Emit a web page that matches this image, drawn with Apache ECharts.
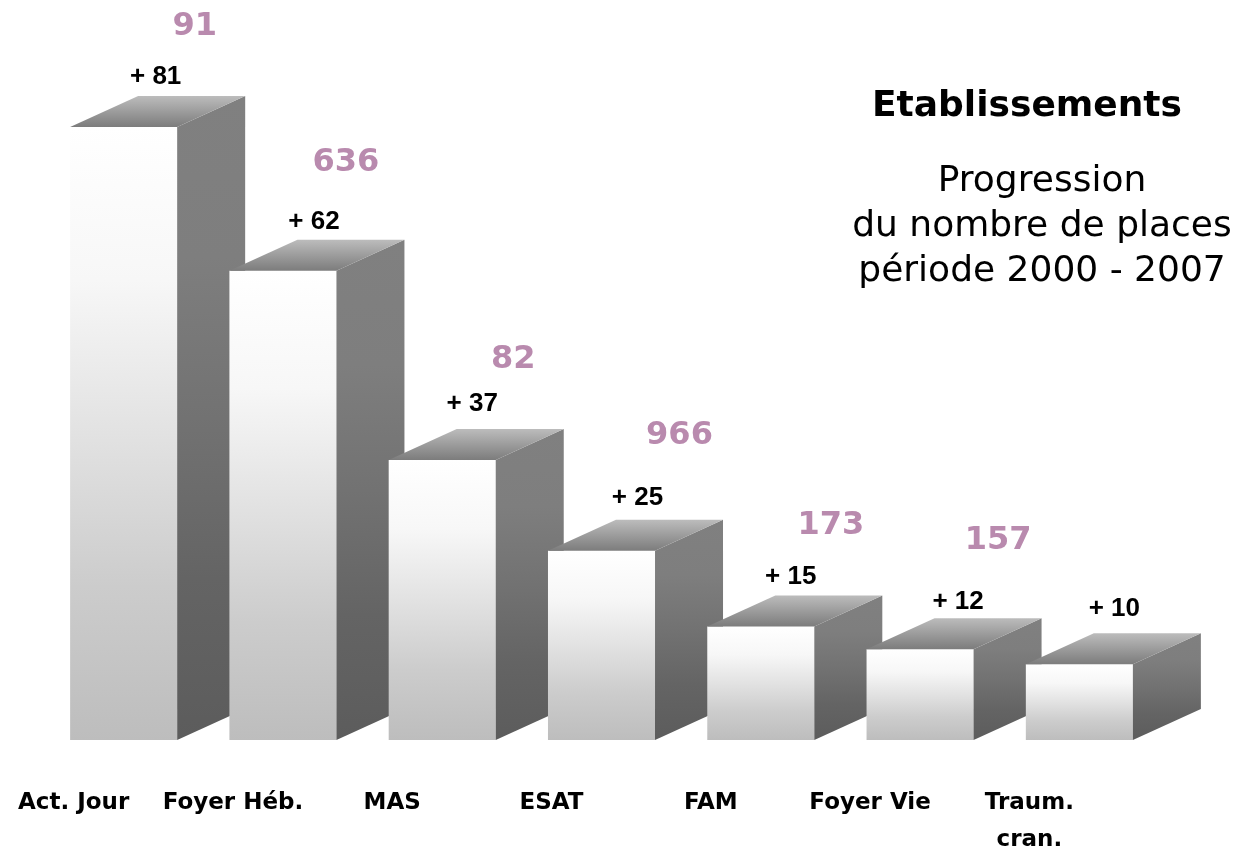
<!DOCTYPE html>
<html>
<head>
<meta charset="utf-8">
<title>Etablissements</title>
<script src="https://cdn.jsdelivr.net/npm/echarts@6/dist/echarts.min.js"></script>
<style>
  html, body { margin: 0; padding: 0; background: #fff; }
  #chart { width: 1236px; height: 850px; }
</style>
</head>
<body>
<div id="chart"></div>
<script>
// données
const categories = ['Act. Jour', 'Foyer Héb.', 'MAS', 'ESAT', 'FAM', 'Foyer Vie', 'Traum.\ncran.'];
const progression = [81, 62, 37, 25, 15, 12, 10];
const places = ['91', '636', '82', '966', '173', '157', ''];

// décalages des étiquettes par rapport au haut de chaque barre
const gainOffsetX = [32, 31, 30, 36, 30, 38, 35];
const gainOffsetY = [50, 49, 56, 53, 50, 47, 56];
const placesOffsetX = [71, 63, 71, 78, 70, 78, 0];
const placesOffsetY = [100, 108, 100, 115, 101, 109, 0];

const depthX = 68;
const depthY = 31;

function vertical(stops) {
  return new echarts.graphic.LinearGradient(0, 0, 0, 1, stops.map((c, i) => ({ offset: i / (stops.length - 1), color: c })));
}

function renderBar(params, api) {
  const i = params.dataIndex;
  const top = api.coord([i, api.value(1)]);
  const base = api.coord([i, 0]);
  const w = api.size([1, 0])[0] * 0.672;
  const l = top[0] - w / 2;
  const r = top[0] + w / 2;

  const children = [
    { // face avant
      type: 'rect',
      shape: { x: l, y: top[1], width: w, height: base[1] - top[1] },
      style: { fill: vertical(['#ffffff', '#f7f7f7', '#e2e2e2', '#cccccc', '#bdbdbd']) }
    },
    { // face droite
      type: 'polygon',
      shape: { points: [[r, top[1]], [r + depthX, top[1] - depthY], [r + depthX, base[1] - depthY], [r, base[1]]] },
      style: { fill: vertical(['#808080', '#7e7e7e', '#727272', '#646464', '#5c5c5c']) }
    },
    { // dessus
      type: 'polygon',
      shape: { points: [[l, top[1]], [l + depthX, top[1] - depthY], [r + depthX, top[1] - depthY], [r, top[1]]] },
      style: { fill: vertical(['#bcbcbc', '#7c7c7c']) }
    },
    {
      type: 'text',
      style: {
        text: '+ ' + api.value(1),
        x: top[0] + gainOffsetX[i],
        y: top[1] - gainOffsetY[i],
        align: 'center',
        verticalAlign: 'middle',
        fill: '#000',
        fontFamily: '"Liberation Sans Narrow", "Liberation Sans", sans-serif',
        fontWeight: 'bold',
        fontSize: 26
      }
    }
  ];
  if (places[i]) {
    children.push({
      type: 'text',
      style: {
        text: places[i],
        x: top[0] + placesOffsetX[i],
        y: top[1] - placesOffsetY[i],
        align: 'center',
        verticalAlign: 'middle',
        fill: '#b98aae',
        fontFamily: '"DejaVu Sans", sans-serif',
        fontWeight: 'bold',
        fontSize: 32
      }
    });
  }
  return { type: 'group', children: children };
}

const chart = echarts.init(document.getElementById('chart'));
chart.setOption({
  animation: false,
  backgroundColor: '#fff',
  title: [
    {
      text: 'Etablissements',
      right: 49,
      top: 84,
      textStyle: { fontFamily: '"DejaVu Sans", sans-serif', fontWeight: 'bold', fontSize: 36, color: '#000' }
    },
    {
      text: 'Progression\ndu nombre de places\npériode 2000 - 2007',
      left: 1037,
      top: 154,
      textAlign: 'center',
      textStyle: { fontFamily: '"DejaVu Sans", sans-serif', fontWeight: 'normal', fontSize: 36, lineHeight: 45, color: '#000', align: 'center' }
    }
  ],
  grid: { left: 44, width: 1115, top: 59, height: 681, outerBoundsMode: 'none' },
  xAxis: {
    type: 'category',
    data: categories,
    axisLine: { show: false },
    axisTick: { show: false },
    axisLabel: {
      interval: 0,
      margin: 45,
      padding: [0, 100, 0, 0],
      color: '#000',
      fontFamily: '"DejaVu Sans", sans-serif',
      fontWeight: 'bold',
      fontSize: 23,
      lineHeight: 37
    }
  },
  yAxis: { type: 'value', min: 0, max: 90, show: false },
  series: [{
    type: 'custom',
    renderItem: renderBar,
    clip: false,
    encode: { x: 0, y: 1 },
    data: progression.map((v, i) => [i, v])
  }]
});
</script>
</body>
</html>
